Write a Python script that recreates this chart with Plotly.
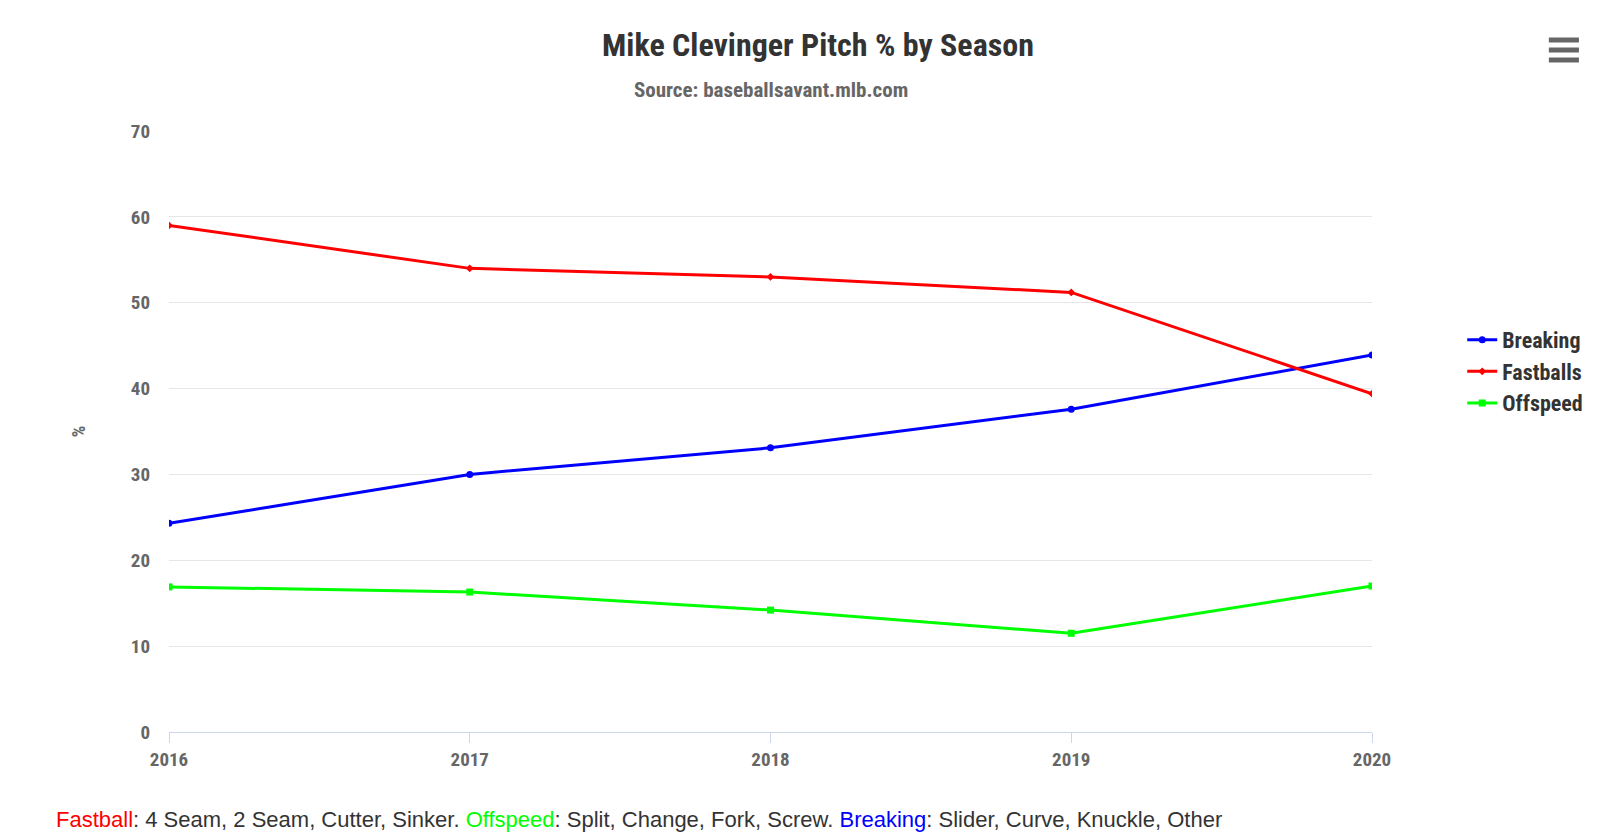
import plotly.graph_objects as go

years = [2016, 2017, 2018, 2019, 2020]
breaking = [24.3, 30.0, 33.1, 37.6, 43.9]
fastballs = [59.0, 54.0, 53.0, 51.2, 39.4]
offspeed = [16.9, 16.3, 14.2, 11.5, 17.0]
y_ticks = [0, 10, 20, 30, 40, 50, 60, 70]

fig = go.Figure()
fig.add_trace(go.Scatter(x=years, y=breaking, name="<b>Breaking</b>", mode="lines+markers",
                         line=dict(color="#0000ff", width=3), marker=dict(symbol="circle", size=7)))
fig.add_trace(go.Scatter(x=years, y=fastballs, name="<b>Fastballs</b>", mode="lines+markers",
                         line=dict(color="#ff0000", width=3), marker=dict(symbol="diamond", size=6)))
fig.add_trace(go.Scatter(x=years, y=offspeed, name="<b>Offspeed</b>", mode="lines+markers",
                         line=dict(color="#00ff00", width=3), marker=dict(symbol="square", size=7)))

fnt = "Roboto Condensed, Roboto, sans-serif"
L, R, T, B = 161, 256, 123, 109
PH = 833 - T - B
fig.update_layout(
    width=1620, height=833, paper_bgcolor="white", plot_bgcolor="white",
    margin=dict(l=L, r=R, t=T, b=B),
    title=dict(text="<b>Mike Clevinger Pitch % by Season</b>", x=0.5, xanchor="center",
               y=1 - 37 / 833, yanchor="middle", font=dict(family=fnt, size=32, color="#333333")),
    font=dict(family=fnt),
    xaxis=dict(range=[2016, 2020], tickvals=years, ticktext=["<b>%d</b>" % y for y in years],
               showgrid=False, showline=True, linecolor="#ccd6eb", linewidth=1,
               ticks="outside", tickcolor="#ccd6eb", ticklen=10,
               tickfont=dict(size=19, color="#666666", family=fnt), zeroline=False),
    yaxis=dict(range=[0, 70], tickvals=y_ticks, ticktext=["<b>%d</b>" % v for v in y_ticks],
               showgrid=True, gridcolor="#e6e6e6",
               zeroline=False, tickfont=dict(size=19, color="#666666", family=fnt),
               title=dict(text="<b>%</b>", font=dict(size=18, color="#666666"), standoff=40),
               ticklabelstandoff=18),
    legend=dict(x=1.075, y=0.6, yanchor="middle", xanchor="left",
                font=dict(size=22, color="#333333", family=fnt), tracegroupgap=0),
    showlegend=True,
)
fig.add_annotation(text="<b>Source: baseballsavant.mlb.com</b>", xref="paper", yref="paper",
                   x=0.5, y=1.0, yshift=41, showarrow=False, font=dict(size=21, color="#666666", family=fnt),
                   xanchor="center", yanchor="middle")
fig.add_annotation(
    text="<span style='color:#ff0000'>Fastball</span>: 4 Seam, 2 Seam, Cutter, Sinker. "
         "<span style='color:#00ff00'>Offspeed</span>: Split, Change, Fork, Screw. "
         "<span style='color:#0000ff'>Breaking</span>: Slider, Curve, Knuckle, Other",
    xref="paper", yref="paper", x=-0.0956, y=0, yshift=-87, xanchor="left", yanchor="middle",
    showarrow=False, font=dict(family="Liberation Sans, Arial", size=22, color="#333333"))
for yy in [32, 42, 52]:
    fig.add_shape(type="line", xref="paper", yref="paper", x0=1.147, x1=1.172,
                  y0=(833 - B - yy) / PH, y1=(833 - B - yy) / PH, line=dict(color="#666666", width=5))
fig.write_html("out.html")
